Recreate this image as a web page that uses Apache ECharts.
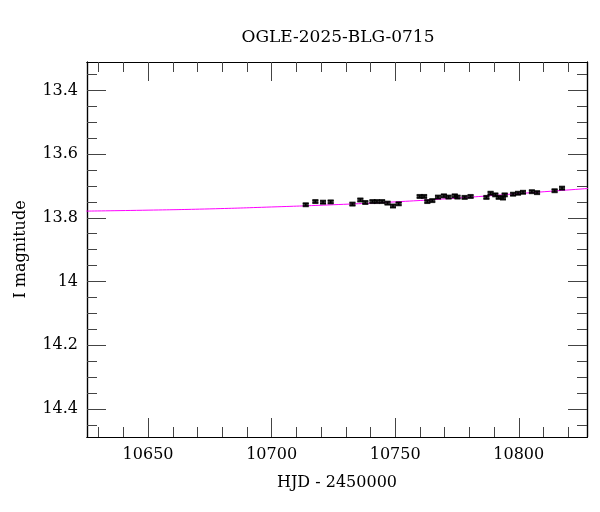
<!DOCTYPE html>
<html>
<head>
<meta charset="utf-8">
<script src="https://cdn.jsdelivr.net/npm/echarts@6/dist/echarts.min.js"></script>
<style>
  html, body { margin: 0; padding: 0; background: #fff; }
  #main { width: 600px; height: 512px; }
</style>
</head>
<body>
<div id="main"></div>
<script>
// OGLE light curve: HJD-2450000 vs I magnitude
var hjd = [10713.8, 10717.7, 10720.8, 10723.9, 10732.7, 10735.9, 10737.9, 10740.8, 10742.6, 10744.7,
           10746.9, 10749.1, 10751.4, 10759.9, 10761.7, 10763.0, 10765.0, 10767.3, 10769.7, 10771.6,
           10774.1, 10775.2, 10778.1, 10780.5, 10786.9, 10788.6, 10790.5, 10791.9, 10793.6, 10794.3,
           10797.7, 10799.7, 10801.7, 10805.3, 10807.4, 10814.5, 10817.5];
var mag = [13.759, 13.749, 13.751, 13.750, 13.757, 13.744, 13.752, 13.749, 13.749, 13.749,
           13.754, 13.763, 13.756, 13.733, 13.733, 13.749, 13.746, 13.735, 13.731, 13.735,
           13.731, 13.735, 13.736, 13.733, 13.736, 13.723, 13.728, 13.736, 13.738, 13.728,
           13.726, 13.723, 13.720, 13.718, 13.721, 13.715, 13.707];
var err = [0.004, 0.004, 0.004, 0.004, 0.004, 0.004, 0.004, 0.004, 0.004, 0.004,
           0.004, 0.004, 0.004, 0.004, 0.004, 0.004, 0.004, 0.004, 0.004, 0.004,
           0.004, 0.004, 0.004, 0.004, 0.004, 0.004, 0.004, 0.004, 0.004, 0.004,
           0.004, 0.004, 0.004, 0.004, 0.004, 0.004, 0.004];

// model curve
var modelX = [10625, 10650, 10675, 10700, 10725, 10750, 10775, 10800, 10828];
var modelY = [13.779, 13.776, 13.772, 13.766, 13.759, 13.750, 13.738, 13.724, 13.708];

var xMajor = [10650, 10700, 10750, 10800];
var xMinor = [10630, 10640, 10660, 10670, 10680, 10690, 10710, 10720, 10730, 10740,
              10760, 10770, 10780, 10790, 10810, 10820];
var yMajor = [13.4, 13.6, 13.8, 14, 14.2, 14.4];
var yMinor = [13.35, 13.45, 13.5, 13.55, 13.65, 13.7, 13.75, 13.85, 13.9, 13.95,
              14.05, 14.1, 14.15, 14.25, 14.3, 14.35, 14.45];

var X_MIN = 10625.3, X_MAX = 10827.6;
var Y_MIN = 13.311, Y_MAX = 14.488;
var FONT = 'DejaVu Serif';

var myChart = echarts.init(document.getElementById('main'));

function xAxisDef(pos, ticks, len, labels) {
    return {
        type: 'value', position: pos, min: X_MIN, max: X_MAX,
        axisLine: { show: true, onZero: false, lineStyle: { color: '#000', width: 1.2 } },
        axisTick: { show: true, inside: true, length: len, customValues: ticks,
                    lineStyle: { color: '#444', width: 1 } },
        axisLabel: labels ? { show: true, customValues: ticks, margin: 10, color: '#000',
                              fontFamily: FONT, fontSize: 16,
                              formatter: function (v) { return String(Math.round(v)); } } : { show: false },
        splitLine: { show: false }
    };
}
function yAxisDef(pos, ticks, len, labels) {
    return {
        type: 'value', position: pos, min: Y_MIN, max: Y_MAX, inverse: true,
        axisLine: { show: true, onZero: false, lineStyle: { color: '#000', width: 1.2 } },
        axisTick: { show: true, inside: true, length: len, customValues: ticks,
                    lineStyle: { color: '#444', width: 1 } },
        axisLabel: labels ? { show: true, customValues: ticks, margin: 9, color: '#000',
                              fontFamily: FONT, fontSize: 16,
                              formatter: function (v) { return String(+v.toFixed(2)); } } : { show: false },
        splitLine: { show: false }
    };
}

var xAxes = [
    xAxisDef('bottom', xMajor, 19, true),
    xAxisDef('bottom', xMinor, 10, false),
    xAxisDef('top', xMajor, 19, false),
    xAxisDef('top', xMinor, 10, false)
];
xAxes[0].name = 'HJD - 2450000';
xAxes[0].nameLocation = 'middle';
xAxes[0].nameGap = 38;
xAxes[0].nameTextStyle = { fontFamily: FONT, fontSize: 16, color: '#000' };

var yAxes = [
    yAxisDef('left', yMajor, 19, true),
    yAxisDef('left', yMinor, 10, false),
    yAxisDef('right', yMajor, 19, false),
    yAxisDef('right', yMinor, 10, false)
];
yAxes[0].name = 'I magnitude';
yAxes[0].nameLocation = 'middle';
yAxes[0].nameGap = 58;
yAxes[0].nameTextStyle = { fontFamily: FONT, fontSize: 16, color: '#000' };

var points = [], bars = [], model = [];
for (var i = 0; i < hjd.length; i++) {
    points.push([hjd[i], mag[i]]);
    bars.push([hjd[i], mag[i] - err[i], mag[i] + err[i]]);
}
for (var j = 0; j < modelX.length; j++) model.push([modelX[j], modelY[j]]);

var option = {
    backgroundColor: '#fff',
    animation: false,
    title: {
        text: 'OGLE-2025-BLG-0715',
        left: 333, top: 24, textAlign: 'center',
        textStyle: { fontFamily: FONT, fontSize: 17, fontWeight: 'normal', color: '#000' }
    },
    grid: { left: 87, right: 13, top: 62, bottom: 75, containLabel: false },
    xAxis: xAxes,
    yAxis: yAxes,
    series: [{
        type: 'line',
        data: model,
        showSymbol: false,
        smooth: true,
        lineStyle: { color: '#ff00ff', width: 1 },
        z: 2
    }, {
        type: 'custom',
        data: bars,
        renderItem: function (params, api) {
            var top = api.coord([api.value(0), api.value(1)]);
            var bot = api.coord([api.value(0), api.value(2)]);
            return {
                type: 'group',
                children: [
                    { type: 'line', shape: { x1: top[0], y1: top[1], x2: bot[0], y2: bot[1] },
                      style: { stroke: '#000', lineWidth: 1.5 } },
                    { type: 'line', shape: { x1: top[0] - 3, y1: top[1], x2: top[0] + 3, y2: top[1] },
                      style: { stroke: '#000', lineWidth: 1 } },
                    { type: 'line', shape: { x1: bot[0] - 3, y1: bot[1], x2: bot[0] + 3, y2: bot[1] },
                      style: { stroke: '#000', lineWidth: 1 } }
                ]
            };
        },
        z: 3
    }, {
        type: 'scatter',
        data: points,
        symbol: 'rect',
        symbolSize: [6, 5],
        itemStyle: { color: '#000' },
        z: 4
    }]
};

myChart.setOption(option);
</script>
</body>
</html>
